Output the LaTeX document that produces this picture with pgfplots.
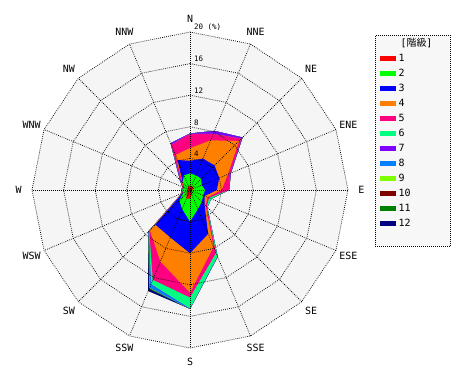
\documentclass[border=0pt]{standalone}
\usepackage{pgfplots}
\pgfplotsset{compat=1.18}
\usepackage{pgfplotstable}
\usepackage{fontspec}
\setmainfont{DejaVu Sans Mono}
\newfontfamily\cjk{Noto Sans CJK JP}
\definecolor{c1}{HTML}{FF0000}
\definecolor{c2}{HTML}{00FF00}
\definecolor{c3}{HTML}{0000FF}
\definecolor{c4}{HTML}{FF8000}
\definecolor{c5}{HTML}{FF0080}
\definecolor{c6}{HTML}{00FF80}
\definecolor{c7}{HTML}{8000FF}
\definecolor{c8}{HTML}{0080FF}
\definecolor{c9}{HTML}{80FF00}
\definecolor{c10}{HTML}{800000}
\definecolor{c11}{HTML}{008000}
\definecolor{c12}{HTML}{000080}
\definecolor{bgpanel}{HTML}{F5F5F5}
\definecolor{bgleg}{HTML}{F7F7F7}

% cumulative frequency (%) by direction, classes 1..12 stacked
\pgfplotstableread{
angle  c1   c2   c3   c4    c5    c6    c7    c8    c9    c10   c11   c12
90     0.6  2.1  3.7  5.3   7.1   7.1   7.15  7.15  7.15  7.15  7.15  7.15
67.5   0.5  2.0  4.3  6.8   7.7   7.7   8.1   8.1   8.1   8.1   8.1   8.1
45     0.6  2.0  4.4  8.8   9.2   9.2   9.4   9.4   9.4   9.4   9.4   9.4
22.5   0.4  1.6  4.0  5.2   5.5   5.5   5.6   5.6   5.6   5.6   5.6   5.6
0      0.3  1.9  3.4  4.0   4.9   4.9   4.95  4.95  4.95  4.95  4.95  4.95
-22.5  0.3  1.8  2.0  2.4   2.6   2.9   2.9   2.9   2.9   2.9   2.9   2.9
-45    0.3  2.1  2.6  2.8   3.0   3.1   3.1   3.1   3.1   3.1   3.1   3.1
-67.5  0.6  2.6  6.0  7.8   8.6   9.1   9.15  9.15  9.15  9.15  9.15  9.15
-90    1.1  4.0  8.0  13.0  13.6  15.0  15.05 15.05 15.05 15.05 15.05 15.05
-112.5 1.2  2.6  6.5  9.8   12.3  12.9  12.95 13.4  13.45 13.5  13.55 13.85
-135   0.6  1.9  6.2  7.2   7.3   7.35  7.4   7.45  7.45  7.45  7.45  7.5
-157.5 0.4  0.9  1.0  1.05  1.1   1.1   1.15  1.15  1.15  1.15  1.15  1.15
180    0.4  1.0  1.0  1.0   1.05  1.05  1.1   1.1   1.1   1.1   1.1   1.1
157.5  0.3  0.8  0.9  0.95  1.0   1.0   1.05  1.05  1.05  1.05  1.05  1.05
135    0.4  1.3  1.3  1.4   1.6   1.6   1.8   1.8   1.8   1.8   1.8   1.8
112.5  0.5  2.0  4.1  4.8   6.2   6.2   6.4   6.4   6.4   6.4   6.4   6.4
}\winddata

\begin{document}
\begin{tikzpicture}
\useasboundingbox (0,0) rectangle (470bp,380bp);
\begin{axis}[
  at={(190bp,190bp)}, anchor=origin,
  x=7.9bp, y=7.9bp,
  xmin=-20, xmax=20, ymin=-20, ymax=20,
  hide axis, clip=false,
  legend image code/.code={\fill[draw=none, solid] (0bp,-2.5bp) rectangle (15.7bp,2.5bp);},
  legend cell align=left,
  legend style={at={(axis description cs:1.0854,0.9905)}, anchor=north west,
    draw=black, line width=0.7bp, dash pattern=on 0.7bp off 1.3bp,
    fill=bgleg, font=\fontsize{10}{10}\selectfont,
    inner xsep=5bp, inner ysep=3bp, row sep=5bp, column sep=2.5bp,
    nodes={inner sep=0bp, text height=8bp, text depth=2bp}},
  gridline/.style={black, line width=0.75bp, dash pattern=on 0.75bp off 1.25bp, forget plot},
]
% legend
\addlegendimage{empty legend}\addlegendentry{\makebox[47bp][l]{\hspace{2bp}[{\cjk 階級}]}}
\addlegendimage{fill=c1, draw=none}\addlegendentry{1}
\addlegendimage{fill=c2, draw=none}\addlegendentry{2}
\addlegendimage{fill=c3, draw=none}\addlegendentry{3}
\addlegendimage{fill=c4, draw=none}\addlegendentry{4}
\addlegendimage{fill=c5, draw=none}\addlegendentry{5}
\addlegendimage{fill=c6, draw=none}\addlegendentry{6}
\addlegendimage{fill=c7, draw=none}\addlegendentry{7}
\addlegendimage{fill=c8, draw=none}\addlegendentry{8}
\addlegendimage{fill=c9, draw=none}\addlegendentry{9}
\addlegendimage{fill=c10, draw=none}\addlegendentry{10}
\addlegendimage{fill=c11, draw=none}\addlegendentry{11}
\addlegendimage{fill=c12, draw=none}\addlegendentry{12}
\addlegendimage{empty legend}\addlegendentry{}

% panel background
\addplot[fill=bgpanel, draw=none, data cs=polar, forget plot] coordinates {
(90,20) (67.5,20) (45,20) (22.5,20) (0,20) (-22.5,20) (-45,20) (-67.5,20) (-90,20) (-112.5,20) (-135,20) (-157.5,20) (180,20) (157.5,20) (135,20) (112.5,20) (90,20)};

% stacked wind rose, outermost first
\addplot[fill=c12, draw=none, data cs=polar, forget plot] table[x=angle, y=c12] {\winddata} -- cycle;
\addplot[fill=c11, draw=none, data cs=polar, forget plot] table[x=angle, y=c11] {\winddata} -- cycle;
\addplot[fill=c10, draw=none, data cs=polar, forget plot] table[x=angle, y=c10] {\winddata} -- cycle;
\addplot[fill=c9, draw=none, data cs=polar, forget plot] table[x=angle, y=c9] {\winddata} -- cycle;
\addplot[fill=c8, draw=none, data cs=polar, forget plot] table[x=angle, y=c8] {\winddata} -- cycle;
\addplot[fill=c7, draw=none, data cs=polar, forget plot] table[x=angle, y=c7] {\winddata} -- cycle;
\addplot[fill=c6, draw=none, data cs=polar, forget plot] table[x=angle, y=c6] {\winddata} -- cycle;
\addplot[fill=c5, draw=none, data cs=polar, forget plot] table[x=angle, y=c5] {\winddata} -- cycle;
\addplot[fill=c4, draw=none, data cs=polar, forget plot] table[x=angle, y=c4] {\winddata} -- cycle;
\addplot[fill=c3, draw=none, data cs=polar, forget plot] table[x=angle, y=c3] {\winddata} -- cycle;
\addplot[fill=c2, draw=none, data cs=polar, forget plot] table[x=angle, y=c2] {\winddata} -- cycle;
\addplot[fill=c1, draw=none, data cs=polar, forget plot] table[x=angle, y=c1] {\winddata} -- cycle;

% grid rings
\addplot[gridline, data cs=polar] coordinates {
(90,4) (67.5,4) (45,4) (22.5,4) (0,4) (-22.5,4) (-45,4) (-67.5,4) (-90,4) (-112.5,4) (-135,4) (-157.5,4) (180,4) (157.5,4) (135,4) (112.5,4) (90,4)};
\addplot[gridline, data cs=polar] coordinates {
(90,8) (67.5,8) (45,8) (22.5,8) (0,8) (-22.5,8) (-45,8) (-67.5,8) (-90,8) (-112.5,8) (-135,8) (-157.5,8) (180,8) (157.5,8) (135,8) (112.5,8) (90,8)};
\addplot[gridline, data cs=polar] coordinates {
(90,12) (67.5,12) (45,12) (22.5,12) (0,12) (-22.5,12) (-45,12) (-67.5,12) (-90,12) (-112.5,12) (-135,12) (-157.5,12) (180,12) (157.5,12) (135,12) (112.5,12) (90,12)};
\addplot[gridline, data cs=polar] coordinates {
(90,16) (67.5,16) (45,16) (22.5,16) (0,16) (-22.5,16) (-45,16) (-67.5,16) (-90,16) (-112.5,16) (-135,16) (-157.5,16) (180,16) (157.5,16) (135,16) (112.5,16) (90,16)};
\addplot[gridline, data cs=polar] coordinates {
(90,20) (67.5,20) (45,20) (22.5,20) (0,20) (-22.5,20) (-45,20) (-67.5,20) (-90,20) (-112.5,20) (-135,20) (-157.5,20) (180,20) (157.5,20) (135,20) (112.5,20) (90,20)};
% spokes
\addplot[gridline, data cs=polar] coordinates {(90,20) (-90,20)};
\addplot[gridline, data cs=polar] coordinates {(67.5,20) (-112.5,20)};
\addplot[gridline, data cs=polar] coordinates {(45,20) (-135,20)};
\addplot[gridline, data cs=polar] coordinates {(22.5,20) (-157.5,20)};
\addplot[gridline, data cs=polar] coordinates {(0,20) (180,20)};
\addplot[gridline, data cs=polar] coordinates {(-22.5,20) (157.5,20)};
\addplot[gridline, data cs=polar] coordinates {(-45,20) (135,20)};
\addplot[gridline, data cs=polar] coordinates {(-67.5,20) (112.5,20)};

% direction labels
\tikzset{dirlab/.style={font=\fontsize{10}{10}\selectfont, inner sep=0pt}}
\node[dirlab] at (axis cs:{21.7*cos(90)},{21.7*sin(90)}) {N};
\node[dirlab] at (axis cs:{21.7*cos(67.5)},{21.7*sin(67.5)}) {NNE};
\node[dirlab] at (axis cs:{21.7*cos(45)},{21.7*sin(45)}) {NE};
\node[dirlab] at (axis cs:{21.7*cos(22.5)},{21.7*sin(22.5)}) {ENE};
\node[dirlab] at (axis cs:{21.7*cos(0)},{21.7*sin(0)}) {E};
\node[dirlab] at (axis cs:{21.7*cos(-22.5)},{21.7*sin(-22.5)}) {ESE};
\node[dirlab] at (axis cs:{21.7*cos(-45)},{21.7*sin(-45)}) {SE};
\node[dirlab] at (axis cs:{21.7*cos(-67.5)},{21.7*sin(-67.5)}) {SSE};
\node[dirlab] at (axis cs:{21.7*cos(-90)},{21.7*sin(-90)}) {S};
\node[dirlab] at (axis cs:{21.7*cos(-112.5)},{21.7*sin(-112.5)}) {SSW};
\node[dirlab] at (axis cs:{21.7*cos(-135)},{21.7*sin(-135)}) {SW};
\node[dirlab] at (axis cs:{21.7*cos(-157.5)},{21.7*sin(-157.5)}) {WSW};
\node[dirlab] at (axis cs:{21.7*cos(180)},{21.7*sin(180)}) {W};
\node[dirlab] at (axis cs:{21.7*cos(157.5)},{21.7*sin(157.5)}) {WNW};
\node[dirlab] at (axis cs:{21.7*cos(135)},{21.7*sin(135)}) {NW};
\node[dirlab] at (axis cs:{21.7*cos(112.5)},{21.7*sin(112.5)}) {NNW};

% ring labels
\tikzset{ringlab/.style={font=\fontsize{7.5}{8}\selectfont, inner sep=0pt, anchor=west}}
\node[ringlab] at (axis cs:0.5,4.55) {4};
\node[ringlab] at (axis cs:0.5,8.55) {8};
\node[ringlab] at (axis cs:0.5,12.55) {12};
\node[ringlab] at (axis cs:0.5,16.55) {16};
\node[ringlab] at (axis cs:0.5,20.6) {20 (\%)};
\end{axis}
\end{tikzpicture}
\end{document}
